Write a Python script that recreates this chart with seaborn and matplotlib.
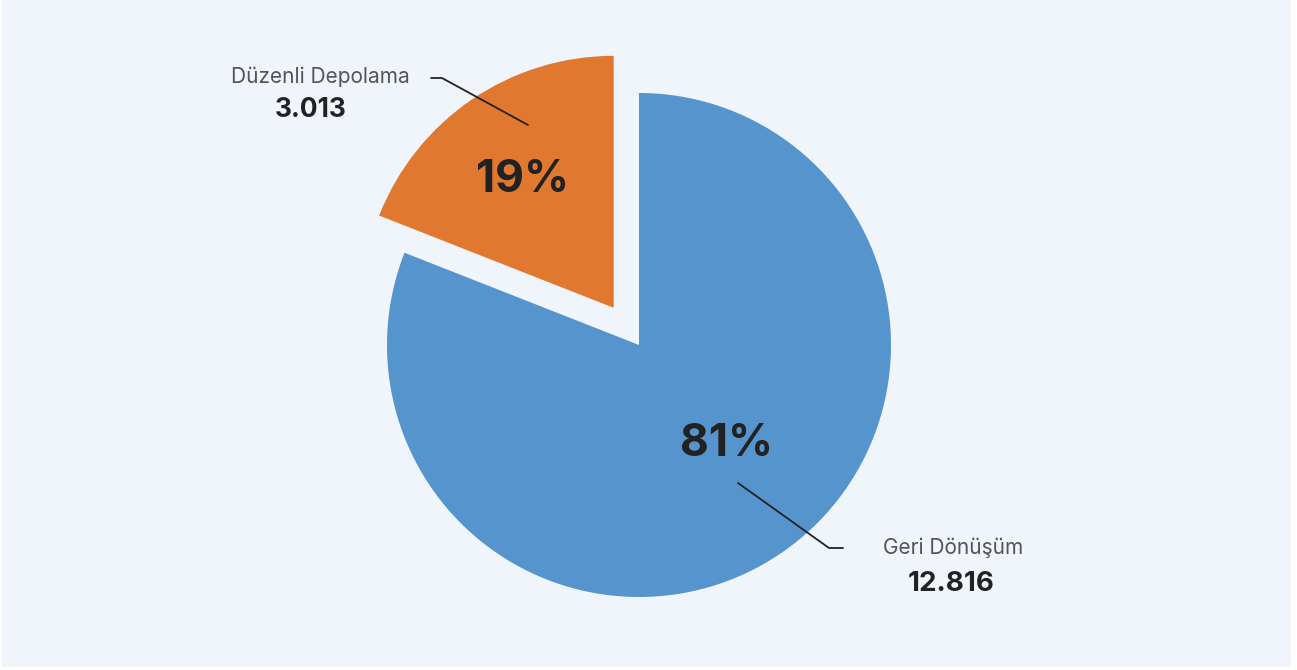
import matplotlib
matplotlib.use("Agg")
import matplotlib.pyplot as plt
from matplotlib.patches import Rectangle
import seaborn as sns

# Waste distribution (tonnes)
categories = ["Düzenli Depolama", "Geri Dönüşüm"]
values = [3013, 12816]
value_labels = ["3.013", "12.816"]
colors = ["#e1782f", "#5694ce"]

sns.set_theme(style="white")
plt.rcParams["font.family"] = ["Inter", "DejaVu Sans"]

W, H = 1297, 670
fig = plt.figure(figsize=(W / 100, H / 100), dpi=100)
fig.patch.set_facecolor("white")
ax = fig.add_axes([0, 0, 1, 1])

# light panel behind the chart
ax.add_patch(Rectangle((2, 3), 1289, 667, facecolor="#eff5fa", edgecolor="none", zorder=0))

cx, cy, r = 639, H - 345, 252
total = sum(values)
# explode offsets are in data units here (axes laid out in pixels)
wedges, _ = ax.pie(
    values,
    colors=colors,
    startangle=90,
    counterclock=True,
    explode=[45, 0],
    radius=r,
    center=(cx, cy),
    frame=True,
    wedgeprops=dict(linewidth=0),
)
ax.set_xlim(0, W)
ax.set_ylim(0, H)
ax.set_aspect("equal")
ax.axis("off")

# percentage labels inside the slices
pct = [round(v / total * 100) for v in values]
ax.text(523, H - 180, f"{pct[0]}%", ha="center", va="center", fontsize=32,
        fontweight="bold", color="#222222", zorder=5)
ax.text(727, H - 444, f"{pct[1]}%", ha="center", va="center", fontsize=32,
        fontweight="bold", color="#222222", zorder=5)

# leader lines
ax.plot([431, 442, 528], [H - 78, H - 78, H - 125], color="#222222", lw=1.3, zorder=5)
ax.plot([738, 829, 843], [H - 483, H - 548, H - 548], color="#222222", lw=1.3, zorder=5)

# category names and values
ax.text(320, H - 77, categories[0], ha="center", va="center", fontsize=15,
        color="#555555", zorder=5)
ax.text(311, H - 110, value_labels[0], ha="center", va="center", fontsize=19,
        fontweight="bold", color="#222222", zorder=5)
ax.text(953, H - 548, categories[1], ha="center", va="center", fontsize=15,
        color="#555555", zorder=5)
ax.text(951, H - 584, value_labels[1], ha="center", va="center", fontsize=20,
        fontweight="bold", color="#222222", zorder=5)

fig.savefig("out.png", dpi=100, facecolor=fig.get_facecolor())
